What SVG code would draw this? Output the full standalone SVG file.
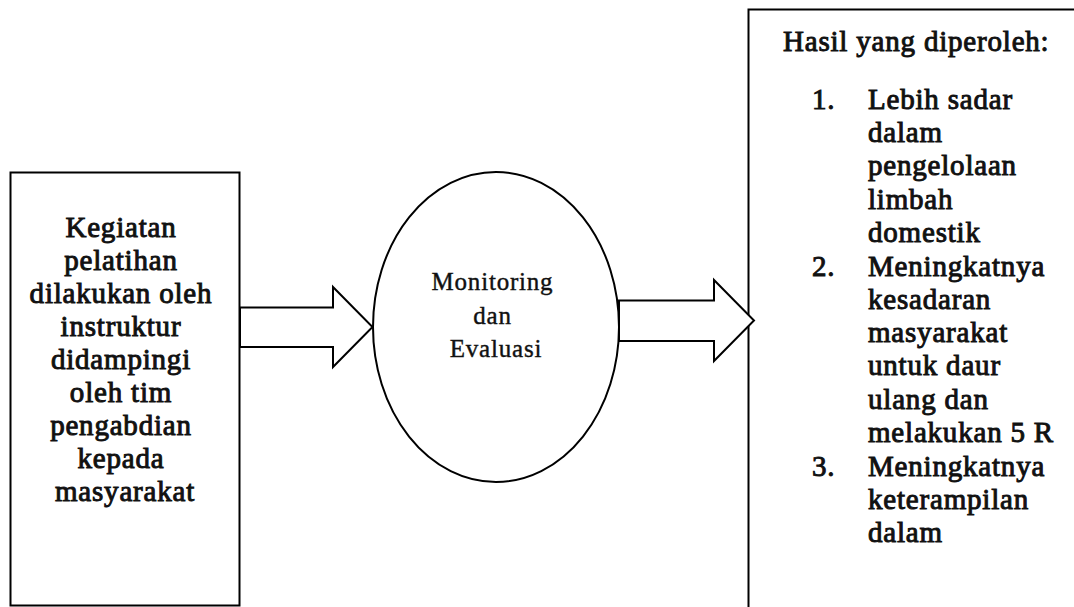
<svg xmlns="http://www.w3.org/2000/svg" width="1074" height="607" viewBox="0 0 1074 607">
  <style>
    .shape { fill: #ffffff; stroke: #000000; stroke-width: 2; }
    .arrow { fill: #ffffff; stroke: #000000; stroke-width: 2; stroke-linejoin: miter; }
    .txt { font-family: "Liberation Serif", "Times New Roman", serif; fill: #111111; stroke: #111111; }
    .body { font-size: 29px; letter-spacing: 0.8px; stroke-width: 0.95; }
    .center { text-anchor: middle; }
    .small { font-size: 25px; letter-spacing: 0.8px; stroke-width: 0.4; }
  </style>
  <rect x="0" y="0" width="1074" height="607" fill="#ffffff"/>

  <!-- Training activity box -->
  <g id="node-kegiatan">
    <rect class="shape" x="10.5" y="172.5" width="229" height="433"/>
    <text class="txt body center">
      <tspan x="125" y="237">Kegiatan</tspan>
      <tspan x="125" y="270">pelatihan</tspan>
      <tspan x="125" y="303">dilakukan oleh</tspan>
      <tspan x="125" y="336">instruktur</tspan>
      <tspan x="125" y="369">didampingi</tspan>
      <tspan x="125" y="402">oleh tim</tspan>
      <tspan x="125" y="435">pengabdian</tspan>
      <tspan x="125" y="468">kepada</tspan>
      <tspan x="125" y="501">masyarakat</tspan>
    </text>
  </g>

  <!-- Monitoring and evaluation ellipse -->
  <g id="node-monitoring">
    <ellipse class="shape" cx="496" cy="327" rx="123" ry="155"/>
    <text class="txt small center">
      <tspan x="496" y="290">Monitoring</tspan>
      <tspan x="496" y="324">dan</tspan>
      <tspan x="496" y="357">Evaluasi</tspan>
    </text>
  </g>

  <!-- Results box -->
  <g id="node-hasil">
    <rect class="shape" x="748.5" y="9.5" width="400" height="700"/>
    <text class="txt body">
      <tspan x="783" y="51">Hasil yang diperoleh:</tspan>
      <tspan x="812" y="109">1.</tspan><tspan x="868" y="109">Lebih sadar</tspan>
      <tspan x="868" y="142">dalam</tspan>
      <tspan x="868" y="175">pengelolaan</tspan>
      <tspan x="868" y="209">limbah</tspan>
      <tspan x="868" y="242">domestik</tspan>
      <tspan x="812" y="276">2.</tspan><tspan x="868" y="276">Meningkatnya</tspan>
      <tspan x="868" y="309">kesadaran</tspan>
      <tspan x="868" y="342">masyarakat</tspan>
      <tspan x="868" y="375">untuk daur</tspan>
      <tspan x="868" y="409">ulang dan</tspan>
      <tspan x="868" y="442">melakukan 5 R</tspan>
      <tspan x="812" y="476">3.</tspan><tspan x="868" y="476">Meningkatnya</tspan>
      <tspan x="868" y="509">keterampilan</tspan>
      <tspan x="868" y="542">dalam</tspan>
    </text>
  </g>

  <!-- Block arrows between the stages -->
  <g id="connectors">
    <polygon class="arrow" points="240,307.5 333,307.5 333,287 372.5,327 333,367 333,347 240,347"/>
    <polygon class="arrow" points="619,300.5 714,300.5 714,280 754,320.5 714,361 714,341 619,341"/>
  </g>
</svg>
